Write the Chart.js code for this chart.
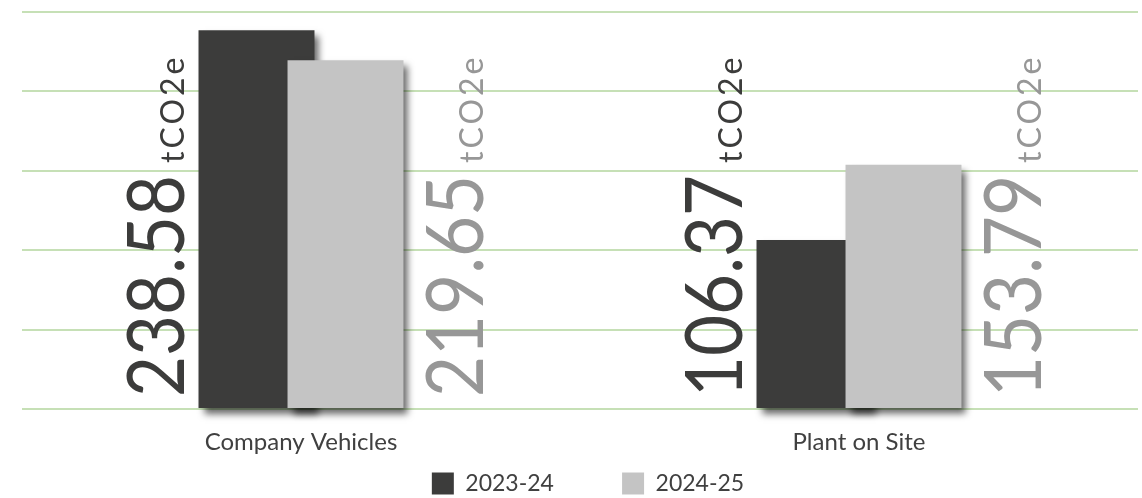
<!DOCTYPE html>
<html><head><meta charset="utf-8">
<script src="https://cdn.jsdelivr.net/npm/chart.js@4.4.0/dist/chart.umd.min.js"></script>
<style>html,body{margin:0;padding:0;background:#fff;overflow:hidden}#wrap{width:1142px;height:498px;position:relative}</style>
</head><body><div id="wrap"><canvas id="c" width="1142" height="498"></canvas></div>
<script>
const categories = ['Company Vehicles', 'Plant on Site'];
const seriesNames = ['2023-24', '2024-25'];
const values2324 = [238.58, 106.37];
const values2425 = [219.65, 153.79];
const unitLabel = 'tCO2e';
const yTickValues = [0, 50, 100, 150, 200, 250];

const DARK = '#3c3c3b';
const LIGHT = '#c4c4c4';
const DARK_TEXT = '#3c3c3b';
const LIGHT_TEXT = '#979797';
const FONT = 'Lato, "Open Sans", sans-serif';
const LEGEND_PAD = 16;

const shadowAndLabels = {
  id: 'shadowAndLabels',
  afterLayout(chart) {
    chart.legend.left += 8;
    chart.legend.right += 8;
  },
  beforeDatasetsDraw(chart) {
    const ctx = chart.ctx;
    ctx.save();
    ctx.shadowColor = 'rgba(0,0,0,0.6)';
    ctx.shadowBlur = 7;
    ctx.shadowOffsetX = 5;
    ctx.shadowOffsetY = 6;
  },
  beforeDatasetDraw(chart, args) {
    // draw the 2024-25 bars after (in front of) the 2023-24 bars
    if (args.index === 1 && !chart.$lateDraw) return false;
  },
  afterDatasetsDraw(chart) {
    const ctx = chart.ctx;
    chart.$lateDraw = true;
    chart.getDatasetMeta(1).controller.draw();
    chart.$lateDraw = false;
    ctx.restore();
    const startY = chart.scales.y.getPixelForValue(0) - 12;
    chart.data.datasets.forEach((ds, di) => {
      const meta = chart.getDatasetMeta(di);
      meta.data.forEach((bar, j) => {
        const left = bar.x - bar.width / 2;
        const right = bar.x + bar.width / 2;
        const isDark = di === 0;
        const baseX = isDark ? left - 15 : right + 80;
        const txt = ds.data[j].toFixed(2);
        ctx.save();
        ctx.translate(baseX, startY);
        ctx.rotate(-Math.PI / 2);
        ctx.fillStyle = isDark ? DARK_TEXT : LIGHT_TEXT;
        ctx.textAlign = 'left';
        ctx.textBaseline = 'alphabetic';
        ctx.font = '80px ' + FONT;
        const w = Math.min(ctx.measureText(txt).width, 222);
        ctx.fillText(txt, 0, 0, 222);
        ctx.font = '32px ' + FONT;
        if ('letterSpacing' in ctx) ctx.letterSpacing = '3px';
        ctx.fillText(unitLabel, w + 12, 0);
        ctx.restore();
      });
    });
  }
};

new Chart(document.getElementById('c'), {
  type: 'bar',
  data: {
    labels: categories,
    datasets: [
      { label: seriesNames[0], data: values2324, backgroundColor: DARK, borderWidth: 0, clip: false,
        categoryPercentage: 0.319, barPercentage: 1.303 },
      { label: seriesNames[1], data: values2425, backgroundColor: LIGHT, borderWidth: 0, clip: false,
        categoryPercentage: 0.319, barPercentage: 1.303 }
    ]
  },
  options: {
    responsive: false,
    animation: false,
    devicePixelRatio: 1,
    layout: { padding: { top: 12, left: 22, right: 4, bottom: -7 } },
    scales: {
      y: {
        min: yTickValues[0], max: yTickValues[yTickValues.length - 1],
        afterBuildTicks(scale) { scale.ticks = yTickValues.map(v => ({ value: v })); },
        ticks: { display: false },
        grid: { color: '#c6e0b6', lineWidth: 2, drawTicks: false },
        border: { display: false }
      },
      x: {
        grid: { display: false, drawTicks: false },
        border: { display: false },
        ticks: { color: '#404040', font: { family: FONT, size: 24 }, padding: 18.6 },
        afterFit(scale) { scale.height = 63 - LEGEND_PAD; }
      }
    },
    plugins: {
      tooltip: { enabled: false },
      legend: {
        position: 'bottom',
        labels: {
          boxWidth: 22, boxHeight: 22, padding: LEGEND_PAD, color: '#404040',
          font: { family: FONT, size: 23 },
          generateLabels(chart) {
            const items = Chart.defaults.plugins.legend.labels.generateLabels(chart);
            items.forEach((it, i) => { if (i < items.length - 1) it.text = it.text + '\u2003\u2003   '; });
            return items;
          }
        }
      }
    }
  },
  plugins: [shadowAndLabels]
});
</script></body></html>
